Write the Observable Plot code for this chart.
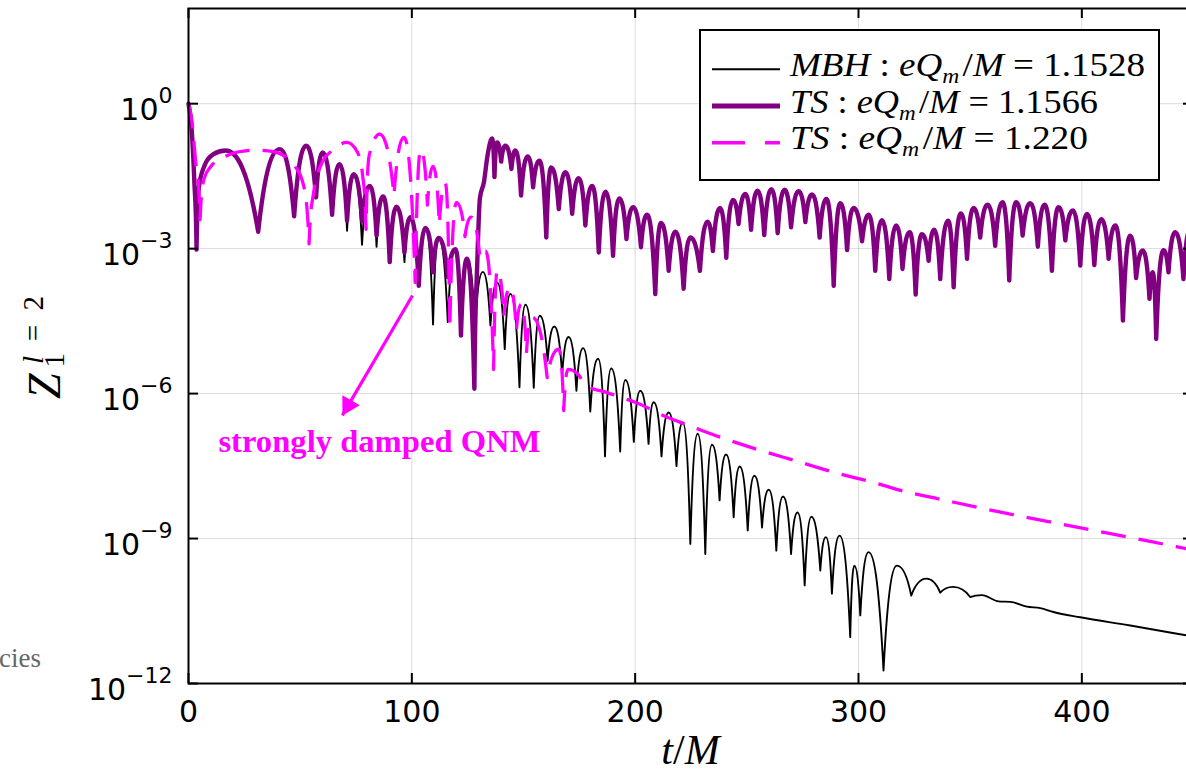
<!DOCTYPE html>
<html><head><meta charset="utf-8">
<script src="https://cdn.jsdelivr.net/npm/d3@7"></script>
<script src="https://cdn.jsdelivr.net/npm/@observablehq/plot@0.6"></script>
<style>
html,body{margin:0;padding:0;background:#fff;overflow:hidden;}
#chart{position:relative;width:1186px;height:775px;overflow:hidden;}
#chart svg{max-width:none !important;width:1200px !important;height:775px !important;}
</style></head><body><div id="chart"></div>
<script>
// ---------- data (t/M, log10 Z) ----------
const xTicks = [0, 100, 200, 300, 400];
const yTicks = [1e0, 1e-3, 1e-6, 1e-9, 1e-12];
const xGrid = [100, 200, 300, 400];
const yGrid = [1e0, 1e-3, 1e-6, 1e-9];

const mbhPts = [[0,0],[1.2,-0.4],[2.6,-1.6],[3.6,-3.02],[4.6,-1.75],[7,-1.3],[11,-1.05],[16.6,-0.97],[31.2,-2.65],[40.9,-0.94],[47.3,-2.33],[52.7,-0.87],[57.1,-1.94],[60.1,-1.01],[64.3,-2.30],[67.6,-1.25],[71,-2.63],[74,-1.46],[77.7,-2.92],[81.2,-1.70],[84.2,-2.96],[87.1,-1.92],[90.1,-3.28],[93.1,-2.13],[96.7,-3.28],[99.4,-2.35],[103.1,-3.77],[106.1,-2.57],[109.5,-4.57],[112,-2.78],[116.1,-4.52],[119.5,-3.01],[122,-4.80],[124.7,-3.21],[128.3,-4.6],[131.8,-3.48],[135.2,-4.59],[138.2,-3.70],[141.6,-5.08],[144.1,-3.94],[148.2,-5.87],[150.9,-4.16],[154.6,-5.88],[157.3,-4.39],[160.8,-5.32],[163.8,-4.61],[167.3,-5.6],[170.2,-4.83],[173.7,-5.94],[176.7,-5.06],[179.9,-6.37],[183.4,-5.28],[186.5,-7.3],[189.3,-5.48],[193.3,-7.2],[195.6,-5.72],[199.4,-7.0],[202.3,-5.94],[206,-7.04],[208.3,-6.18],[211.8,-7.3],[215,-6.39],[218.5,-7.5],[221.3,-6.6],[224.7,-9.11],[228,-6.83],[231.4,-9.32],[234.4,-7.06],[237.8,-8.21],[240.7,-7.26],[244.1,-8.56],[246.8,-7.51],[250.4,-8.83],[253.4,-7.70],[256.8,-8.77],[259.8,-7.99],[263.2,-9.25],[266.2,-8.13],[269.8,-9.32],[272.7,-8.46],[275.9,-9.97],[278.9,-8.55],[282.9,-9.66],[285.4,-8.97],[288.1,-10.14],[291.5,-8.94],[296.3,-11.04],[298.1,-9.56],[300.8,-10.59],[304.5,-9.28],[311.2,-11.73],[317.2,-9.56],[323.6,-10.18],[330.4,-9.83],[336.6,-10.12],[342.3,-10.0],[350,-10.21],[355.3,-10.17],[362.7,-10.30],[368,-10.31],[375.4,-10.41],[381.4,-10.44],[387.3,-10.52],[399.3,-10.63],[421.7,-10.80],[450,-11.03]];

const tsAPts = [[0,0],[1.2,-0.4],[2.6,-1.6],[3.6,-3.02],[4.6,-1.75],[7,-1.3],[11,-1.05],[16.6,-0.97],[31.2,-2.65],[40.9,-0.94],[47.3,-2.33],[52.7,-0.87],[57.1,-1.94],[60.1,-1.01],[64.3,-2.30],[67.6,-1.25],[71,-2.42],[74,-1.46],[77.7,-2.42],[81.2,-1.70],[84.2,-2.73],[87.1,-1.92],[90.1,-3.28],[93.1,-2.13],[96.7,-3.08],[99.4,-2.35],[103.1,-3.77],[106.1,-2.57],[109.5,-3.49],[112,-2.78],[116.1,-3.59],[119.5,-3.01],[122,-4.80],[124.7,-3.21],[128,-5.9],[129.3,-3.3],[130.5,-1.95],[132.3,-1.62],[133.8,-1.1],[135.9,-0.72],[137,-1.52],[138.2,-0.8],[140,-1.2],[141.9,-0.87],[144.6,-1.35],[146.4,-0.97],[148.9,-1.90],[151.9,-1.09],[154.3,-1.73],[157.1,-1.18],[160.2,-2.77],[162.4,-1.32],[165.8,-2.18],[168.8,-1.42],[171.8,-2.28],[174.7,-1.54],[177.7,-2.52],[180.7,-1.70],[183.7,-3.08],[186.7,-1.82],[190.1,-3.15],[192.9,-1.96],[196.1,-2.80],[199.1,-2.14],[202.6,-2.97],[205.3,-2.30],[209,-3.94],[211.6,-2.47],[215,-3.46],[218,-2.65],[221.7,-3.83],[224.7,-2.77],[229,-3.46],[232.4,-2.44],[234.8,-3.05],[238,-2.16],[240.8,-3.19],[243.8,-1.99],[246.3,-2.49],[249.3,-1.87],[251.9,-2.61],[254.8,-1.80],[257.8,-2.72],[261,-1.77],[263.8,-2.68],[266.9,-1.78],[269.8,-2.56],[273.2,-1.81],[276.2,-2.45],[279.2,-1.88],[282.6,-2.77],[285.6,-1.97],[288.9,-3.77],[291.9,-2.06],[294.9,-3.03],[297.8,-2.16],[301.6,-2.85],[304.6,-2.30],[307.5,-3.46],[310.5,-2.41],[313.8,-3.63],[316.9,-2.52],[319.7,-3.42],[322.9,-2.66],[325.6,-3.95],[328.4,-2.70],[331.4,-3.25],[333.9,-2.61],[336.6,-3.63],[340.1,-2.42],[342.6,-3.80],[345.9,-2.27],[348.6,-3.21],[351.5,-2.16],[354.5,-2.77],[357.8,-2.09],[361.2,-2.94],[364.5,-2.04],[367.5,-3.66],[370.6,-2.04],[373.5,-2.73],[376.9,-2.06],[380.3,-2.96],[383.3,-2.09],[386.6,-3.46],[389.6,-2.14],[392.6,-2.83],[396,-2.21],[399.3,-3.35],[402.3,-2.28],[405.6,-3.34],[408.7,-2.39],[412,-3.21],[415,-2.52],[418.4,-4.49],[421.7,-2.73],[424.3,-3.61],[427.3,-3.04],[430.3,-4.04],[431.7,-3.49],[433.3,-4.87],[436.6,-3.03],[438.8,-3.49],[441.8,-2.66],[445.5,-3.63],[448.5,-2.6],[450,-3.2]];

const tsBPts = [[0,0],[1.5,-0.35],[3,-1.1],[5.2,-2.4],[7,-1.55],[10,-1.3],[15,-1.13],[22,-1.0],[30,-0.96],[38,-0.99],[44,-1.12],[48,-1.32],[51,-1.6],[54,-2.9],[56,-1.85],[60,-1.2],[64,-0.98],[71,-0.8],[75.6,-1.0],[78,-1.5],[79.5,-2.6],[81,-1.05],[85.5,-0.63],[92,-1.9],[96.5,-0.70],[101.5,-3.7],[104,-0.95],[107,-2.1],[109.5,-1.3],[112.3,-2.5],[115,-1.65],[117,-4.65],[120,-2.05],[123.8,-2.75],[126.5,-2.35],[130.5,-3.2],[133,-3.05],[136.6,-5.5],[138.3,-3.45],[141.2,-4.4],[144,-3.8],[146.8,-4.7],[149,-4.15],[151.3,-5.17],[153.8,-4.42],[160.6,-5.67],[165.8,-5.08],[168,-6.35],[170,-5.5],[174,-5.58],[177.5,-5.8],[181,-5.9],[186,-5.96],[190,-6.02],[195,-6.1],[200,-6.18],[205,-6.28],[210,-6.4],[215,-6.5],[220,-6.59],[228,-6.73],[238,-6.9],[255,-7.16],[272.5,-7.4],[289,-7.63],[306,-7.83],[322,-8.04],[334,-8.16],[362,-8.44],[396,-8.75],[430.6,-9.06],[450,-9.24]];

const legendNames = ["MBH", "TS", "TS"];
const legendValues = ["1.1528", "1.1566", "1.220"];
const annotationText = ["strongly damped QNM"];
const annotationPos = [[13.4, -7.01]];
const arrowPts = [[100.3, -3.97, 68.9, -6.45]];

// ---------- helpers ----------
const rows = pts => pts.map(([t, e]) => ({t, z: Math.pow(10, e)}));

// curve: rounded crests, cusp-like troughs (log of an oscillation)
function CuspCurve(context) { this._context = context; }
CuspCurve.prototype = {
  areaStart() { this._line = 0; }, areaEnd() { this._line = NaN; },
  lineStart() { this._pts = []; },
  point(x, y) { this._pts.push([+x, +y]); },
  lineEnd() {
    const p = this._pts, n = p.length, c = this._context, K = 2.4;
    if (!n) return;
    c.moveTo(p[0][0], p[0][1]);
    if (n === 1) return;
    const s = [];
    for (let i = 0; i < n - 1; i++) s[i] = (p[i+1][1] - p[i][1]) / ((p[i+1][0] - p[i][0]) || 1e-9);
    const tin = new Array(n), tout = new Array(n);
    tout[0] = s[0]; tin[n-1] = s[n-2];
    for (let i = 1; i < n - 1; i++) {
      const a = s[i-1], b = s[i];
      if (a < 0 && b > 0) { tin[i] = tout[i] = 0; }
      else if (a > 0 && b < 0) { tin[i] = K * a; tout[i] = K * b; }
      else {
        const h0 = p[i][0] - p[i-1][0], h1 = p[i+1][0] - p[i][0];
        const q = (a * h1 + b * h0) / (h0 + h1);
        const m = (Math.sign(a) + Math.sign(b)) * Math.min(Math.abs(a), Math.abs(b), 0.5 * Math.abs(q)) || 0;
        tin[i] = tout[i] = m;
      }
    }
    for (let i = 0; i < n - 1; i++) {
      const [x0, y0] = p[i], [x1, y1] = p[i+1], dx = x1 - x0;
      let m0 = tout[i], m1 = tin[i+1];
      const sec = s[i];
      if (sec !== 0) {
        const al = m0 / sec, be = m1 / sec, r = al*al + be*be;
        if (r > 9) { const tau = 3 / Math.sqrt(r); m0 *= tau; m1 *= tau; }
      }
      c.bezierCurveTo(x0 + dx/3, y0 + m0*dx/3, x1 - dx/3, y1 - m1*dx/3, x1, y1);
    }
  }
};
const cuspCurve = ctx => new CuspCurve(ctx);

const W = 1200, H = 775, ML = 188, MR = 7, MT = 8, MB = 92;

const chart = Plot.plot({
  width: W, height: H,
  marginLeft: ML, marginRight: MR, marginTop: MT, marginBottom: MB,
  style: {fontFamily: "DejaVu Sans", fontSize: "30px", background: "white", color: "black", overflow: "visible", maxWidth: "none"},
  x: {domain: [0, 450], axis: null},
  y: {type: "log", domain: [1e-12, Math.pow(10, 1.97)], axis: null},
  marks: [
    Plot.ruleX(xGrid, {x: d => d, stroke: "#000", strokeOpacity: 0.14, strokeWidth: 1}),
    Plot.ruleY(yGrid, {y: d => d, stroke: "#000", strokeOpacity: 0.14, strokeWidth: 1}),
    Plot.line(rows(mbhPts), {x: "t", y: "z", curve: cuspCurve, stroke: "#000", strokeWidth: 1.9}),
    Plot.line(rows(tsAPts), {x: "t", y: "z", curve: cuspCurve, stroke: "#800080", strokeWidth: 4.4}),
    Plot.line(rows(tsBPts), {x: "t", y: "z", curve: cuspCurve, stroke: "#ff00ff", strokeWidth: 3.3, strokeDasharray: "25,13", strokeLinecap: "butt"}),
    Plot.link(arrowPts, {x1: d => d[0], y1: d => Math.pow(10, d[1]), x2: d => d[2], y2: d => Math.pow(10, d[3]), stroke: "#ff00ff", strokeWidth: 3.2}),
    Plot.dot(arrowPts, {x: d => d[2], y: d => Math.pow(10, d[3]), symbol: "triangle", r: 7.5, rotate: 210, fill: "#ff00ff", stroke: "none", dx: 5.8, dy: -10}),
    Plot.text(annotationPos, {x: d => d[0], y: d => Math.pow(10, d[1]), text: (d, i) => annotationText[i], textAnchor: "start", lineAnchor: "middle", fill: "#ff00ff", fontSize: 31, fontWeight: "bold", fontFamily: "Liberation Serif"}),
    Plot.frame({stroke: "black", strokeWidth: 2}),
    Plot.tickX(xTicks, {x: d => d, insetTop: 665, stroke: "black", strokeWidth: 2}),
    Plot.tickX(xTicks, {x: d => d, insetBottom: 665, stroke: "black", strokeWidth: 2}),
    Plot.tickY(yTicks, {y: d => d, insetRight: 995, stroke: "black", strokeWidth: 2}),
    Plot.tickY(yTicks, {y: d => d, insetLeft: 995, stroke: "black", strokeWidth: 2}),
    Plot.text(xTicks, {x: d => d, frameAnchor: "bottom", lineAnchor: "top", dy: 17, text: d => String(d), fontSize: 30, fill: "black"}),
    Plot.text(yTicks, {y: d => d, frameAnchor: "left", textAnchor: "end", lineAnchor: "middle", dx: -16, dy: 7, text: d => "10^" + Math.round(Math.log10(d)), fontSize: 30, fill: "black"})
  ]
});
chart.style.maxWidth = "none";
document.getElementById("chart").appendChild(chart);

const svg = d3.select(chart);
// superscript exponents on y tick labels
svg.selectAll("text").each(function() {
  const s = this.textContent;
  if (s.indexOf("^") < 0) return;
  const el = d3.select(this);
  const [base, exp] = s.split("^");
  el.selectAll("*").remove();
  el.text(null);
  el.append("tspan").text(base);
  el.append("tspan").attr("dy", -17).attr("font-size", 22).text(exp.replace("-", "\u2212"));
});
svg.selectAll("text").filter(function() { return this.textContent === annotationText[0]; })
  .attr("textLength", 322).attr("lengthAdjust", "spacingAndGlyphs");

const mathFont = "Liberation Serif";
// legend
const lg = svg.append("g").attr("text-anchor", "start");
lg.append("rect").attr("x", 700).attr("y", 30).attr("width", 459).attr("height", 150)
  .attr("fill", "white").attr("stroke", "black").attr("stroke-width", 2);
const legStyles = [
  {stroke: "#000", w: 2, dash: null, lineY: 69.3, base: 76, len: 355},
  {stroke: "#800080", w: 5, dash: null, lineY: 106, base: 112.5, len: 308},
  {stroke: "#ff00ff", w: 3.5, dash: "33,20", lineY: 142.7, base: 149, len: 298}
];
legendNames.forEach((nm, i) => {
  const st = legStyles[i];
  lg.append("line").attr("x1", 712).attr("x2", 780).attr("y1", st.lineY).attr("y2", st.lineY)
    .attr("stroke", st.stroke).attr("stroke-width", st.w).attr("stroke-dasharray", st.dash);
  const t = lg.append("text").attr("x", 790).attr("y", st.base).attr("text-anchor", "start").attr("font-family", mathFont)
    .attr("font-size", 33).attr("fill", "black").attr("textLength", st.len).attr("lengthAdjust", "spacingAndGlyphs");
  t.append("tspan").attr("font-style", "italic").text(nm);
  t.append("tspan").text(" : ");
  t.append("tspan").attr("font-style", "italic").text("eQ");
  t.append("tspan").attr("font-style", "italic").attr("font-size", 21).attr("dy", 7).text("m");
  t.append("tspan").attr("dy", -7).attr("dx", 3).text("/");
  t.append("tspan").attr("font-style", "italic").text("M");
  t.append("tspan").text(" = " + legendValues[i]);
});

// axis titles
const xl = svg.append("text").attr("x", (ML + W - MR) / 2).attr("y", 764).attr("text-anchor", "middle")
  .attr("font-family", mathFont).attr("font-size", 42).attr("fill", "black");
xl.append("tspan").attr("font-style", "italic").text("t");
xl.append("tspan").text("/");
xl.append("tspan").attr("font-style", "italic").text("M");

const yl = svg.append("text").attr("transform", "translate(60,399) rotate(-90)").attr("text-anchor", "start")
  .attr("font-family", mathFont).attr("font-size", 46).attr("fill", "black");
yl.append("tspan").attr("font-style", "italic").text("Z");
yl.append("tspan").attr("font-size", 29).attr("dx", 6).attr("dy", 4).text("1");
yl.append("tspan").attr("font-size", 29).attr("font-style", "italic").attr("dx", -11).attr("dy", -21).text("l");
yl.append("tspan").attr("font-size", 29).text("\u2002=\u20022");

// fragment of surrounding page text
svg.append("text").attr("x", 41).attr("y", 667).attr("text-anchor", "end")
  .attr("font-family", "Liberation Serif").attr("font-size", 27).attr("fill", "#666").text("cies");
</script>
</body></html>
